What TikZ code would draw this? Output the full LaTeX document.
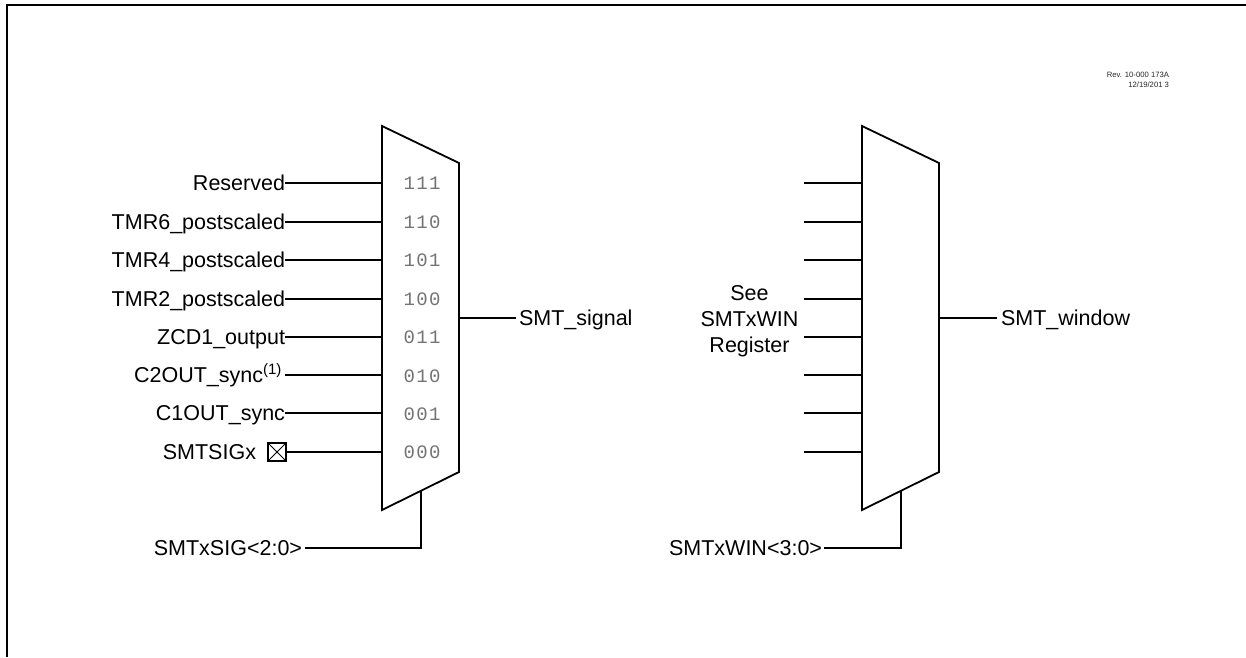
\documentclass[tikz,border=0pt]{standalone}
\usepackage{fontspec}
\setmainfont{Liberation Sans}
\newfontfamily\codefont[LetterSpace=7]{Liberation Mono}
\begin{document}
\begin{tikzpicture}[x=1pt,y=-1pt,
  wire/.style={line width=1.8pt,black},
  muxbody/.style={line width=1.8pt,black,fill=white,line join=miter},
  frameline/.style={line width=2pt,black},
  lbl/.style={inner sep=0pt,outer sep=0pt,text height=15.4pt,text depth=0pt,font=\fontsize{21.5}{25}\selectfont,anchor=east},
  ctl/.style={inner sep=0pt,outer sep=0pt,text height=15.4pt,text depth=0pt,font=\fontsize{21.5}{25}\selectfont,anchor=west},
  code/.style={inner sep=0pt,outer sep=0pt,text height=12.5pt,text depth=0pt,font=\fontsize{19}{21}\selectfont\codefont,text=black!55,anchor=center},
  rev/.style={inner sep=0pt,outer sep=0pt,align=right,anchor=north east,font=\fontsize{7.7}{10}\selectfont,text=black!85}]
\useasboundingbox (0,0) rectangle (1246,657);
\coordinate (fb) at (7,657);
\coordinate (fc) at (7,5);
\coordinate (fe) at (1246,5);
\draw[frameline,line cap=butt,line join=miter] (fb) -- (fc) -- (fe);

% left multiplexer
\coordinate (lTL) at (382,126);
\coordinate (lTR) at (459,163);
\coordinate (lBR) at (459,472);
\coordinate (lBL) at (382,510);
\draw[muxbody] (lTL) -- (lTR) -- (lBR) -- (lBL) -- cycle;

\node[lbl] (a7) at (285,182.5) {Reserved};
\node[lbl] (a6) at (285,221.5) {TMR6\_postscaled};
\node[lbl] (a5) at (285,259.5) {TMR4\_postscaled};
\node[lbl] (a4) at (285,298.5) {TMR2\_postscaled};
\node[lbl] (a3) at (285,336.5) {ZCD1\_output};
\node[lbl] (a2) at (282,374.5) {C2OUT\_sync\textsuperscript{(1)}};
\node[lbl] (a1) at (285,412.5) {C1OUT\_sync};
\node[lbl] (a0) at (256,451.5) {SMTSIGx};
\node[draw,line width=1.8pt,minimum size=18pt,inner sep=0pt,outer sep=0pt] (pin) at (277,452) {};
\draw[line width=1pt] (pin.north west) -- (pin.south east) (pin.north east) -- (pin.south west);

\foreach \n/\y in {7/183,6/222,5/260,4/299,3/337,2/375,1/413,0/452}{
  \coordinate (ls\n) at (285,\y);
  \coordinate (li\n) at (382,\y);
}
\draw[wire] (ls7) -- (li7);
\draw[wire] (ls6) -- (li6);
\draw[wire] (ls5) -- (li5);
\draw[wire] (ls4) -- (li4);
\draw[wire] (ls3) -- (li3);
\draw[wire] (ls2) -- (li2);
\draw[wire] (ls1) -- (li1);
\draw[wire] (pin.east) -- (li0);

\node[code] (c7) at (422,183.5) {111};
\node[code] (c6) at (422,222) {110};
\node[code] (c5) at (422,260.5) {101};
\node[code] (c4) at (422,299) {100};
\node[code] (c3) at (422,337.5) {011};
\node[code] (c2) at (422,376) {010};
\node[code] (c1) at (422,414) {001};
\node[code] (c0) at (422,452.5) {000};

\coordinate (lout) at (459,318);
\node[ctl] (sig) at (519,317.5) {SMT\_signal};
\coordinate (sigw) at (516,318);
\draw[wire] (lout) -- (sigw);
\coordinate (lsel) at (421,491);
\coordinate (lcorner) at (421,548);
\coordinate (lse) at (305,548);
\node[lbl] (lsn) at (302,547.5) {SMTxSIG<2:0>};
\draw[wire] (lsel) -- (lcorner) -- (lse);

% right multiplexer
\coordinate (rTL) at (862,126);
\coordinate (rTR) at (939,163);
\coordinate (rBR) at (939,472);
\coordinate (rBL) at (862,510);
\draw[muxbody] (rTL) -- (rTR) -- (rBR) -- (rBL) -- cycle;
\foreach \n/\y in {7/183,6/222,5/260,4/299,3/337,2/375,1/413,0/452}{
  \coordinate (rs\n) at (804,\y);
  \coordinate (ri\n) at (862,\y);
  \draw[wire] (rs\n) -- (ri\n);
}
\node[inner sep=0pt,outer sep=0pt,align=center,font=\fontsize{21.5}{26}\selectfont] (see) at (749.5,321.5) {See\\SMTxWIN\\Register};
\coordinate (rout) at (939,318);
\coordinate (winw) at (997,318);
\node[ctl] (win) at (1001,317.5) {SMT\_window};
\draw[wire] (rout) -- (winw);
\coordinate (rsel) at (901,491);
\coordinate (rcorner) at (901,548);
\coordinate (rse) at (824,548);
\node[lbl] (rsn) at (822,547.5) {SMTxWIN<3:0>};
\draw[wire] (rsel) -- (rcorner) -- (rse);

\node[rev] (revn) at (1169,72.5) {Rev. 10-000 173A\\12/19/201 3};
\end{tikzpicture}
\end{document}
